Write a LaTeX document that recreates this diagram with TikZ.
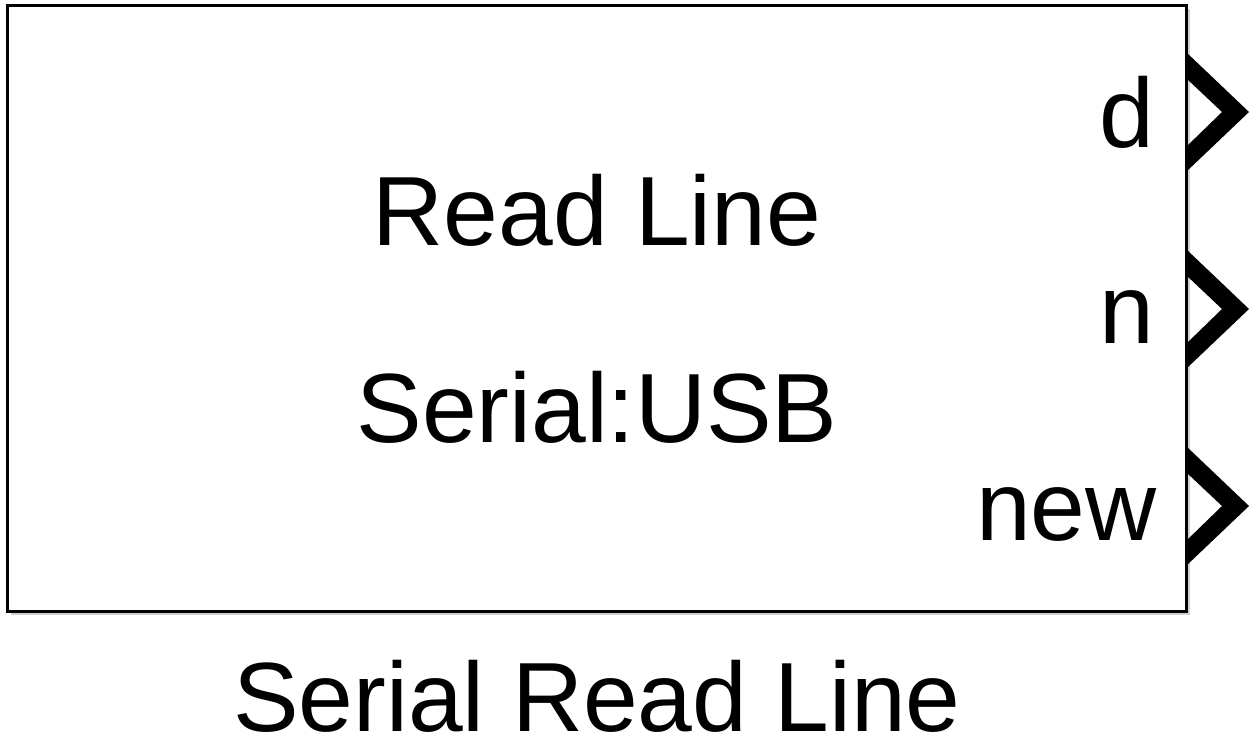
\documentclass[tikz,border=0pt]{standalone}
\usepackage{fontspec}
\setmainfont{Liberation Sans}
\usetikzlibrary{shadows}
\usetikzlibrary{positioning}

\begin{document}
\begin{tikzpicture}[x=0.02cm,y=-0.02cm,
  blockbox/.style={draw,fill=white,line width=1.7pt,inner sep=0pt,
    minimum width=23.6cm,minimum height=12.14cm,
    drop shadow={shadow xshift=2pt,shadow yshift=-2pt,fill=gray!60,opacity=0.6}},
  big/.style={inner sep=0pt,font=\fontsize{56}{60}\selectfont},
  portlbl/.style={big,anchor=base east},
  port/.style={fill=black}]

\useasboundingbox (0,0) rectangle (1260,743);

\node[blockbox] (blk) at (597,308.5) {};

\node[big,anchor=base] (title) at (597,245) {Read Line};
\node[big,anchor=base] (sub) at (597,442) {Serial:USB};
\node[big,anchor=base] (name) at (597,731) {Serial Read Line};

% output ports
\coordinate (pd) at (1187,112);
\coordinate (pn) at (1187,309);
\coordinate (pnew) at (1187,506);

\node[portlbl] (ld) at (1155,148) {d};
\node[portlbl] (ln) at (1155,343) {n};
\node[portlbl] (lnew) at (1157,540) {new};

\fill[port,shift={(pd)}] (0,-59) -- (62,0) -- (0,59) -- (0,34) -- (35,0) -- (0,-33) -- cycle;
\fill[port,shift={(pn)}] (0,-59) -- (62,0) -- (0,59) -- (0,34) -- (35,0) -- (0,-33) -- cycle;
\fill[port,shift={(pnew)}] (0,-59) -- (62,0) -- (0,59) -- (0,34) -- (35,0) -- (0,-33) -- cycle;
\end{tikzpicture}
\end{document}
